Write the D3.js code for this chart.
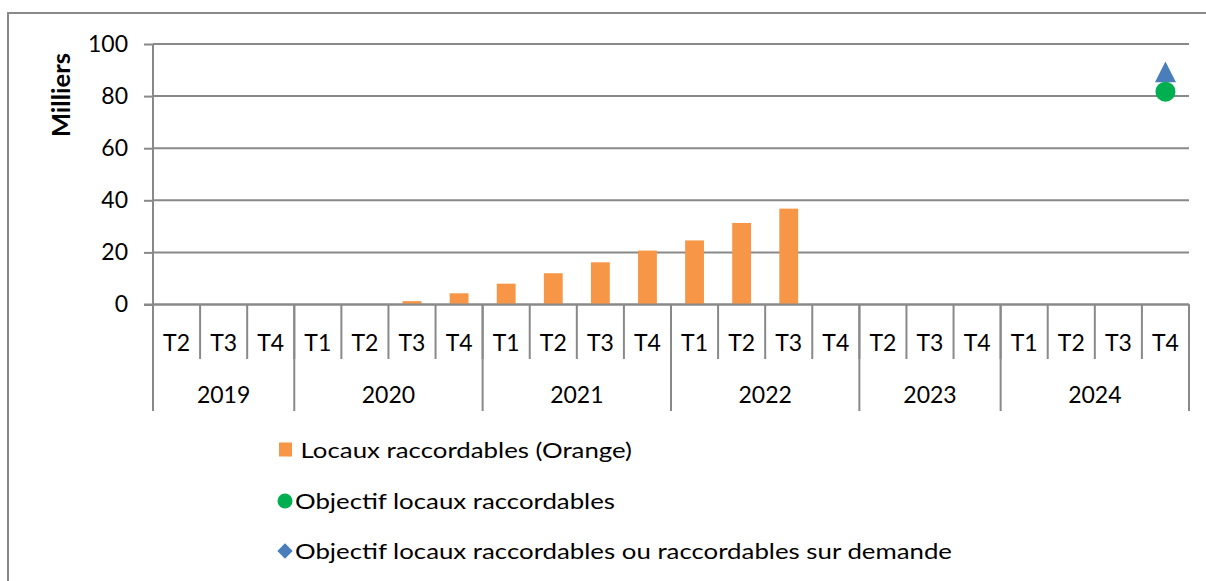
<!DOCTYPE html>
<html>
<head>
<meta charset="utf-8">
<script src="https://cdn.jsdelivr.net/npm/d3@7"></script>
<style>
	body { margin: 0; background: #fff; }
	svg { display: block; font-family: Lato, "Open Sans", sans-serif; }
</style>
</head>
<body>
<div id="my_dataviz"></div>
<script>
// chart data
const years = ["2019", "2020", "2021", "2022", "2023", "2024"];
const quarters = [
	["T2", "T3", "T4"],
	["T1", "T2", "T3", "T4"],
	["T1", "T2", "T3", "T4"],
	["T1", "T2", "T3", "T4"],
	["T2", "T3", "T4"],
	["T1", "T2", "T3", "T4"]
];
// Locaux raccordables (Orange), milliers
const raccordables = [null, null, null, null, null, 1.3, 4.3, 8.0, 12.0, 16.2, 20.7, 24.6, 31.3, 36.8,
	null, null, null, null, null, null, null, null];
// objectifs, milliers
const objectifRaccordables = [{ cat: "2024 T4", value: 81.7 }];
const objectifDemande = [{ cat: "2024 T4", value: 89.3 }];
const yTicks = [0, 20, 40, 60, 80, 100];
const legendLabels = [
	"Locaux raccordables (Orange)",
	"Objectif locaux raccordables",
	"Objectif locaux raccordables ou raccordables sur demande"
];

const W = 1206, H = 581;
const plot = { left: 153, right: 1189, top: 44, bottom: 304.5 };
const gray = "#898989";
const colOrange = "#F79646", colGreen = "#00B050", colBlue = "#4A7EBB";

const categories = years.flatMap((y, i) => quarters[i].map(q => `${y} ${q}`));

const svg = d3.select("#my_dataviz")
	.append("svg")
	.attr("width", W)
	.attr("height", H);

// outer chart border
svg.append("rect")
	.attr("x", 8).attr("y", 13)
	.attr("width", 1300).attr("height", 700)
	.attr("fill", "none")
	.attr("stroke", gray)
	.attr("stroke-width", 2);

const x = d3.scaleBand()
	.domain(categories)
	.range([plot.left, plot.right]);

const xBar = d3.scaleBand()
	.domain(categories)
	.range([plot.left, plot.right])
	.paddingInner(0.6)
	.paddingOuter(0.3);

const y = d3.scaleLinear()
	.domain([0, 100])
	.range([plot.bottom, plot.top]);

// gridlines + y axis
const yAxis = svg.append("g")
	.attr("transform", `translate(${plot.left}, 0)`)
	.call(d3.axisLeft(y).tickValues(yTicks).tickSize(9).tickPadding(16));
yAxis.select(".domain").remove();
yAxis.selectAll("line").attr("stroke", gray).attr("stroke-width", 2);
yAxis.selectAll("text")
	.attr("font-size", "23px")
	.attr("fill", "#000")
	.attr("font-family", "Lato");

svg.append("g")
	.selectAll("line")
	.data(yTicks)
	.enter()
	.append("line")
	.attr("x1", plot.left)
	.attr("x2", plot.right)
	.attr("y1", d => y(d))
	.attr("y2", d => y(d))
	.attr("stroke", gray)
	.attr("stroke-width", 2);

svg.append("text")
	.attr("transform", `translate(70, ${(y(100) + y(60)) / 2 - 1}) rotate(-90)`)
	.attr("text-anchor", "middle")
	.attr("font-size", "24px")
	.attr("font-weight", "bold")
	.attr("textLength", 84)
	.attr("lengthAdjust", "spacingAndGlyphs")
	.text("Milliers");

// bars
svg.append("g")
	.selectAll("rect")
	.data(categories.map((c, i) => ({ cat: c, value: raccordables[i] })).filter(d => d.value != null))
	.enter()
	.append("rect")
	.attr("x", d => xBar(d.cat))
	.attr("width", xBar.bandwidth())
	.attr("y", d => y(d.value))
	.attr("height", d => y(0) - y(d.value))
	.attr("fill", colOrange);

// y axis line on top of the bars
svg.append("line")
	.attr("x1", plot.left).attr("x2", plot.left)
	.attr("y1", plot.top).attr("y2", plot.bottom)
	.attr("stroke", gray).attr("stroke-width", 2);

// category axis: quarters
const tier1 = 359, tier2 = 411;
const xAxis = svg.append("g");
xAxis.selectAll(".qsep")
	.data(categories)
	.enter()
	.append("line")
	.attr("x1", d => x(d) + x.bandwidth())
	.attr("x2", d => x(d) + x.bandwidth())
	.attr("y1", plot.bottom)
	.attr("y2", tier1)
	.attr("stroke", gray)
	.attr("stroke-width", 2);
xAxis.selectAll(".qlab")
	.data(categories)
	.enter()
	.append("text")
	.attr("x", d => x(d) + x.bandwidth() / 2)
	.attr("y", 351)
	.attr("text-anchor", "middle")
	.attr("font-size", "23px")
	.text(d => d.split(" ")[1]);

// years
const yearSpans = years.map(yr => {
	const cats = categories.filter(c => c.startsWith(yr));
	return { year: yr, x0: x(cats[0]), x1: x(cats[cats.length - 1]) + x.bandwidth() };
});
xAxis.selectAll(".ysep")
	.data([yearSpans[0].x0, ...yearSpans.map(d => d.x1)])
	.enter()
	.append("line")
	.attr("x1", d => d).attr("x2", d => d)
	.attr("y1", plot.bottom).attr("y2", tier2)
	.attr("stroke", gray)
	.attr("stroke-width", 2);
xAxis.selectAll(".ylab")
	.data(yearSpans)
	.enter()
	.append("text")
	.attr("x", d => (d.x0 + d.x1) / 2)
	.attr("y", 403)
	.attr("text-anchor", "middle")
	.attr("font-size", "23px")
	.text(d => d.year);

// category axis line
svg.append("line")
	.attr("x1", plot.left - 9).attr("x2", plot.right)
	.attr("y1", plot.bottom).attr("y2", plot.bottom)
	.attr("stroke", gray).attr("stroke-width", 2);

// objective markers (triangle a bit taller than equilateral, as in Excel)
const excelTriangle = {
	draw(context) {
		context.moveTo(0, -10.3);
		context.lineTo(10.5, 10.3);
		context.lineTo(-10.5, 10.3);
		context.closePath();
	}
};
svg.append("g")
	.selectAll("path")
	.data(objectifDemande)
	.enter()
	.append("path")
	.attr("d", d3.symbol().type(excelTriangle))
	.attr("transform", d => `translate(${x(d.cat) + x.bandwidth() / 2}, ${y(d.value)})`)
	.attr("fill", colBlue);

svg.append("g")
	.selectAll("circle")
	.data(objectifRaccordables)
	.enter()
	.append("circle")
	.attr("cx", d => x(d.cat) + x.bandwidth() / 2)
	.attr("cy", d => y(d.value))
	.attr("r", 10)
	.attr("fill", colGreen);

// legend
const legend = svg.append("g");
legend.append("rect")
	.attr("x", 279).attr("y", 442.5)
	.attr("width", 13).attr("height", 14)
	.attr("fill", colOrange);
legend.append("circle")
	.attr("cx", 285).attr("cy", 501)
	.attr("r", 7.5)
	.attr("fill", colGreen);
legend.append("path")
	.attr("d", d3.symbol().type(d3.symbolDiamond2).size(150))
	.attr("transform", "translate(285, 551)")
	.attr("fill", colBlue);

const legendX = [300.5, 295, 295];
const legendEnd = [632, 615, 952];
legend.selectAll("text")
	.data(legendLabels)
	.enter()
	.append("text")
	.attr("x", (d, i) => legendX[i])
	.attr("y", (d, i) => [457.5, 508.5, 559][i])
	.attr("font-size", "22px")
	.attr("textLength", (d, i) => legendEnd[i] - legendX[i])
	.attr("lengthAdjust", "spacingAndGlyphs")
	.text(d => d);
</script>
</body>
</html>
